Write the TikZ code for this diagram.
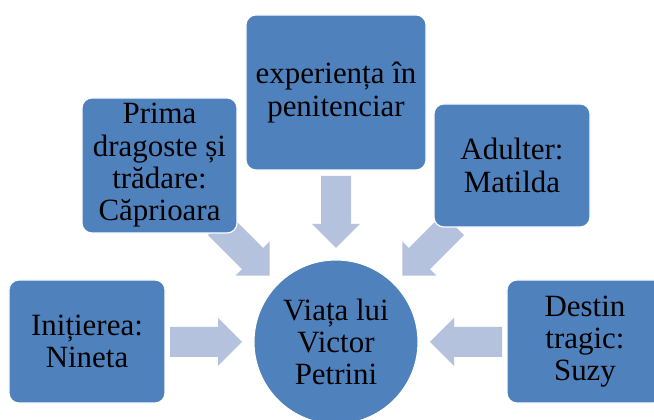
\documentclass[tikz,border=0pt]{standalone}
\usepackage{fontspec}
\setmainfont{Liberation Serif}
\usetikzlibrary{backgrounds}
\definecolor{BoxBlue}{RGB}{79, 129, 189}
\definecolor{ArrowBlue}{RGB}{180, 194, 222}

\tikzset{
    box/.style = {rectangle, rounded corners=0.25cm, fill=BoxBlue, draw=white,
        line width=0.8pt, align=center, inner sep=0pt,
        font=\fontsize{22}{23}\selectfont},
    hubnode/.style = {circle, fill=BoxBlue, draw=white, line width=0.8pt,
        minimum size=4.1cm, inner sep=0pt, align=center,
        font=\fontsize{22}{23}\selectfont},
    blockarrow/.style = {fill=ArrowBlue}
}

% block arrow pointing to the hub, coming from angle #1
\newcommand{\hubarrow}[1]{
    \begin{scope}[shift={(hub.center)}, rotate=#1]
        \fill[blockarrow]
        (94,0) to (118,24) to (118,15) to (166,15) to (166,-15) to (118,-15) to (118,-24) to (94,0)
        ;
    \end{scope}
}

\begin{document}
\begin{tikzpicture}[x=0.025cm, y=0.025cm]
    \useasboundingbox (0,0) rectangle (654,420);
    \clip (0,0) rectangle (654,420);
    % Hub
    \node[hubnode] (hub) at (336,78) {Viața lui\\Victor\\Petrini};
    % Boxes
    \node[box, minimum width=3.9cm, minimum height=3.075cm] (nineta) at (87,78.5) {Inițierea:\\Nineta};
    \node[box, minimum width=3.875cm, minimum height=3.375cm] (caprioara) at (159.5,254.5) {Prima\\dragoste și\\trădare:\\Căprioara};
    \node[box, minimum width=4.5cm, minimum height=3.875cm] (penitenciar) at (336,327.5) {experiența în\\penitenciar};
    \node[box, minimum width=3.9cm, minimum height=3.075cm] (matilda) at (512,254.5) {Adulter:\\Matilda};
    \node[box, minimum width=3.9cm, minimum height=3.075cm] (suzy) at (585,78.5) {Destin\\tragic:\\Suzy};
    % Arrows
    \begin{scope}[on background layer]
        \hubarrow{180}
        \hubarrow{135}
        \hubarrow{90}
        \hubarrow{45}
        \hubarrow{0}
    \end{scope}
\end{tikzpicture}
\end{document}
